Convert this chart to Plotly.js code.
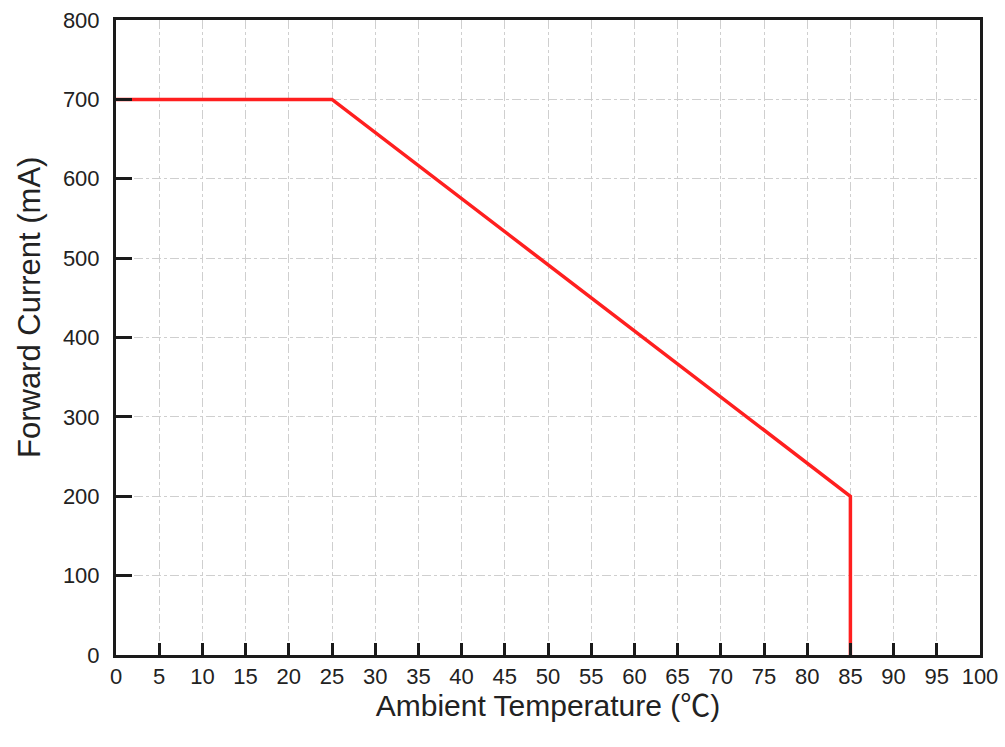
<!DOCTYPE html>
<html>
<head>
<meta charset="utf-8">
<script src="https://cdn.plot.ly/plotly-3.0.1.min.js"></script>
<style>html,body{margin:0;padding:0;background:#fff;}#chart{width:1005px;height:747px;}</style>
</head>
<body>
<div id="chart"></div>
<script>
const temperature = [0, 25, 85, 85];
const forwardCurrent = [700, 700, 200, 0];
const xTickVals = [0,5,10,15,20,25,30,35,40,45,50,55,60,65,70,75,80,85,90,95,100];
const yTickVals = [0,100,200,300,400,500,600,700,800];
const xTitle = 'Ambient Temperature (℃)';
const yTitle = 'Forward Current (mA)';

const FONT = 'Liberation Sans, Arial, Noto Sans CJK SC, sans-serif';

const axisCommon = {
  showline: true, linecolor: '#1a1a1a', linewidth: 3, mirror: true,
  ticks: 'inside', tickcolor: '#1a1a1a', tickwidth: 3,
  showgrid: true, gridcolor: '#cfcfcf', gridwidth: 1, griddash: 'dashdot',
  zeroline: false,
  tickfont: {family: FONT, size: 22, color: '#222'}
};

const trace = {
  x: temperature, y: forwardCurrent, type: 'scatter', mode: 'lines',
  line: {color: '#ff1f1f', width: 3.5}, hoverinfo: 'skip'
};

const layout = {
  width: 1005, height: 747,
  margin: {l: 116, r: 25, t: 20, b: 92},
  paper_bgcolor: '#ffffff', plot_bgcolor: '#ffffff',
  showlegend: false,
  xaxis: Object.assign({}, axisCommon, {
    range: [0, 100], tickvals: xTickVals, ticklen: 12, ticklabelstandoff: 0,
    title: {text: xTitle, standoff: 6,
      font: {family: FONT, size: 30, color: '#222'}}
  }),
  yaxis: Object.assign({}, axisCommon, {
    range: [0, 800], tickvals: yTickVals, ticklen: 16, ticklabelstandoff: 9
  }),
  annotations: [{
    text: yTitle, textangle: -90, showarrow: false,
    xref: 'paper', yref: 'paper', x: -0.0995, y: 0.5465,
    xanchor: 'center', yanchor: 'middle',
    font: {family: FONT, size: 31, color: '#222'}
  }]
};

Plotly.newPlot('chart', [trace], layout, {displayModeBar: false, staticPlot: true});
</script>
</body>
</html>
